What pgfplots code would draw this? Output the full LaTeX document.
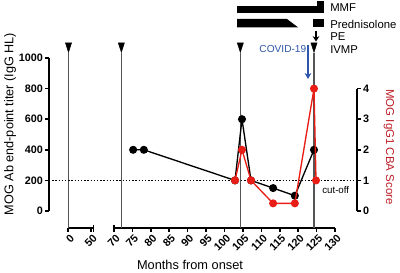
\documentclass[border=0pt]{standalone}
\usepackage{pgfplots}
\pgfplotsset{compat=1.18}
\usepackage{fontspec}
\setmainfont{Liberation Sans}
\usetikzlibrary{arrows.meta}
\definecolor{myred}{RGB}{232,30,22}
\definecolor{labred}{RGB}{190,30,40}
\definecolor{myblue}{RGB}{45,85,170}
\definecolor{vgray}{RGB}{85,85,85}
\begin{document}
\begin{tikzpicture}
\useasboundingbox (0,0) rectangle (300pt,204pt);
\pgfplotsset{
  every non boxed x axis/.style={},
  every non boxed y axis/.style={},
  common/.style={scale only axis, anchor=south west, clip=false,
    axis line style={-, line width=1.5pt, black},
    every tick/.append style={line width=1.2pt, black},
    major tick length=2.8pt,
    tick align=outside,
    /pgf/number format/assume math mode=true,
    /pgf/number format/1000 sep={},
  },
  xseg/.style={common, axis x line=bottom, axis y line=none, xtick pos=bottom,
    ytick=\empty, xticklabels={,,,,,,,,,,,,,,},
    x tick label style={opacity=0, text opacity=0},
    ymin=-111, ymax=1000, height=127.5pt},
}
% left y axis
\begin{axis}[common, at={(36.75pt,45.75pt)}, width=10pt, height=114.75pt,
  xmin=0, xmax=1, ymin=0, ymax=1000, axis y line=left, axis x line=none, xtick=\empty,
  ytick={0,200,400,600,800,1000}, ytick pos=left,
  yticklabel style={inner sep=1.5pt, font=\bfseries\fontsize{8.1}{9}\selectfont}]
\addplot[draw=none] coordinates {(0,0)};
\end{axis}
% x segment 1
\begin{axis}[xseg, at={(51.2pt,33pt)}, width=18.75pt, xmin=0, xmax=55, xtick={0,50}]
\addplot[vgray, line width=1.2pt] coordinates {(0.5,-111) (0.5,1033)};
\addplot[only marks, mark=triangle*, mark size=4.67pt,
  mark options={rotate=180, xscale=0.56, fill=black, draw=black}] coordinates {(0.5,1078)};
\end{axis}
% x segment 2 with titer data
\begin{axis}[xseg, at={(85.5pt,33pt)}, width=165.75pt, xmin=70, xmax=130,
  xtick={70,75,...,130}]
\addplot[vgray, line width=1.2pt] coordinates {(72,-111) (72,1033)};
\addplot[vgray, line width=1.2pt] coordinates {(104.3,-111) (104.3,1033)};
\addplot[vgray, line width=1.2pt] coordinates {(124.3,-111) (124.3,1033)};
\addplot[only marks, mark=triangle*, mark size=4.67pt,
  mark options={rotate=180, xscale=0.56, fill=black, draw=black}]
  coordinates {(72,1078) (104.3,1078) (124.3,1078)};
\addplot[black, line width=1.1pt, dash pattern=on 1.1pt off 1.3pt] coordinates {(53.2,200) (134.9,200)};
\addplot[black, line width=1pt, mark=*, mark size=2.5pt, mark options={fill=black, solid}]
  coordinates {(75.2,400) (78.1,400) (102.85,200) (104.75,600) (107.2,200) (113.2,150) (119.1,100) (124.3,400)};
\end{axis}
% right axis with CBA score
\begin{axis}[common, at={(85.5pt,45.75pt)}, width=182.25pt, height=91.8pt,
  xmin=70, xmax=135.98, ymin=0, ymax=4, axis y line=right, axis x line=none, xtick=\empty,
  ytick={0,1,2,3,4}, ytick pos=right,
  yticklabel style={inner sep=1.5pt, font=\bfseries\fontsize{8.1}{9}\selectfont}]
\addplot[myred, line width=1pt, mark=*, mark size=2.5pt, mark options={fill=myred, draw=myred}]
  coordinates {(102.85,1) (104.75,2) (107.2,1) (113.2,0.25) (119.1,0.25) (124.3,4) (124.85,1)};
\end{axis}
\begin{scope}[x=0.75pt, y=-0.75pt, shift={(0pt,204pt)}]
% axis caps
\draw[line width=1.2pt] (93.3,224.5) -- (93.3,231.5);
\draw[line width=1.2pt] (114,224.5) -- (114,231.5);
% x tick labels, rotated
\foreach \lab/\xx in {0/68.3, 50/91, 70/114, 75/132.4, 80/150.8, 85/169.3, 90/187.7, 95/206.1,
  100/224.5, 105/242.9, 110/261.3, 115/279.7, 120/298.2, 125/316.6, 130/335}
  \node[rotate=45, anchor=north east, inner sep=0pt, font=\bfseries\fontsize{8.1}{9}\selectfont]
    at (\xx+1.2,233.5) {\lab};
% treatment bars
\fill (237,6) rectangle (317,13);
\fill (317,1) rectangle (324,13);
\fill (237,19) -- (287,19) -- (298,27.3) -- (237,27.3) -- cycle;
\fill (313,19.3) rectangle (324,27.3);
\draw[line width=1.4pt, -{Stealth[length=4pt, width=5pt]}] (316,31) -- (316,41.5);
\draw[myblue, line width=1.5pt, -{Stealth[length=4.5pt, width=5pt]}] (308,45) -- (308,79);
\node[anchor=west, inner sep=0pt, font=\fontsize{8.5}{10}\selectfont] at (330,7.5) {MMF};
\node[anchor=west, inner sep=0pt, font=\fontsize{8.5}{10}\selectfont] at (330,24) {Prednisolone};
\node[anchor=west, inner sep=0pt, font=\fontsize{8.5}{10}\selectfont] at (330,36.5) {PE};
\node[anchor=west, inner sep=0pt, font=\fontsize{8.5}{10}\selectfont] at (330,50) {IVMP};
\node[anchor=east, inner sep=0pt, text=myblue, font=\fontsize{7.6}{9}\selectfont] at (306.5,49.5) {COVID-19};
\node[anchor=west, inner sep=0pt, font=\fontsize{7.3}{9}\selectfont] at (322,190) {cut-off};
\node[inner sep=0pt, font=\fontsize{9.6}{11}\selectfont] at (190,265) {Months from onset};
\node[rotate=90, inner sep=0pt, font=\fontsize{9.5}{11}\selectfont] at (10,124) {MOG Ab end-point titer (IgG HL)};
\node[rotate=-90, inner sep=0pt, text=labred, font=\fontsize{8.6}{10}\selectfont] at (389,147) {MOG IgG1 CBA Score};
\end{scope}
\end{tikzpicture}
\end{document}
